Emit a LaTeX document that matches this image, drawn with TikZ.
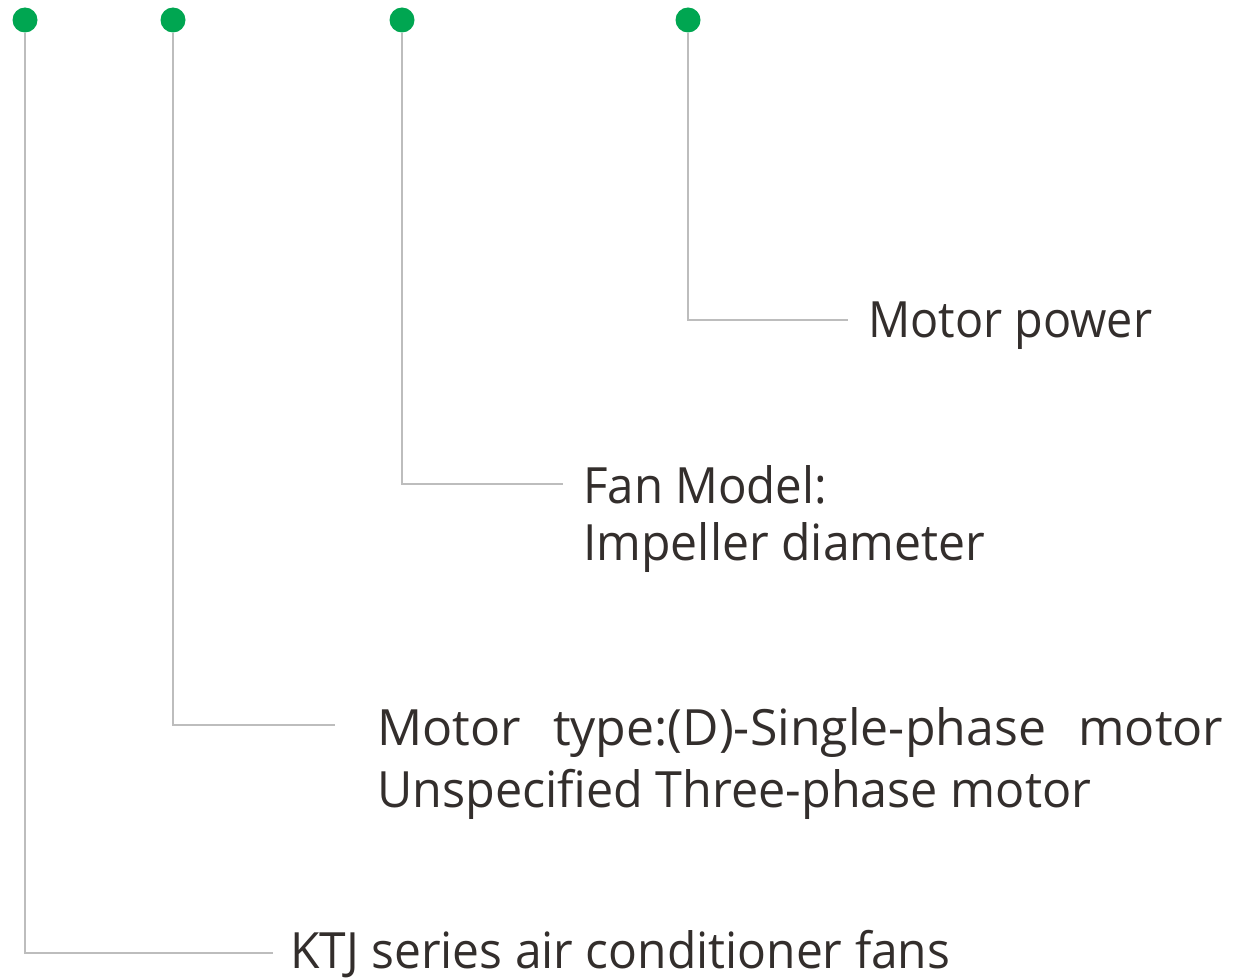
\documentclass[tikz,border=0pt]{standalone}
\usepackage{fontspec}
\usepackage{graphicx}
\setmainfont{Open Sans}
\usetikzlibrary{positioning}
\definecolor{dotgreen}{HTML}{00A651}
\definecolor{leadgray}{HTML}{BDBDBD}
\definecolor{labeltext}{HTML}{332E2C}
\tikzset{
  dot/.style={circle,fill=dotgreen,minimum size=25pt,inner sep=0pt},
  lead/.style={draw=leadgray,line width=2.5pt},
  lbl/.style={anchor=base west,inner sep=0pt,text=labeltext,font=\fontsize{50}{57}\selectfont},
}
\newcommand\fitto[2]{\resizebox{#1}{\height}{#2}}
\begin{document}
\begin{tikzpicture}[x=1pt,y=-1pt]
    \useasboundingbox (0,0) rectangle (1234,979);
    % green points
    \node[dot] (series) at (25,20) {};
    \node[dot] (type) at (173,20) {};
    \node[dot] (model) at (402,20) {};
    \node[dot] (power) at (688,20) {};
    % ends of the leads
    \coordinate (seriesend) at (273,953);
    \coordinate (typeend) at (335,725);
    \coordinate (modelend) at (563,484);
    \coordinate (powerend) at (848,320);
    \draw[lead] (series) |- (seriesend);
    \draw[lead] (type) |- (typeend);
    \draw[lead] (model) |- (modelend);
    \draw[lead] (power) |- (powerend);
    % labels
    \node[lbl] (powerlbl) at (868,337) {\fitto{284pt}{Motor power}};
    \node[lbl] (modellbl) at (583,503) {\fitto{244pt}{Fan Model:}};
    \node[lbl] (modellbltwo) at (583,560) {\fitto{402pt}{Impeller diameter}};
    \node[lbl] (typelbl) at (377,745) {\makebox[846pt][s]{Motor type:(D)-Single-phase motor}};
    \node[lbl] (typelbltwo) at (377,807) {\fitto{714pt}{Unspecified Three-phase motor}};
    \node[lbl] (serieslbl) at (290,968) {\fitto{660pt}{KTJ series air conditioner fans}};
\end{tikzpicture}
\end{document}
